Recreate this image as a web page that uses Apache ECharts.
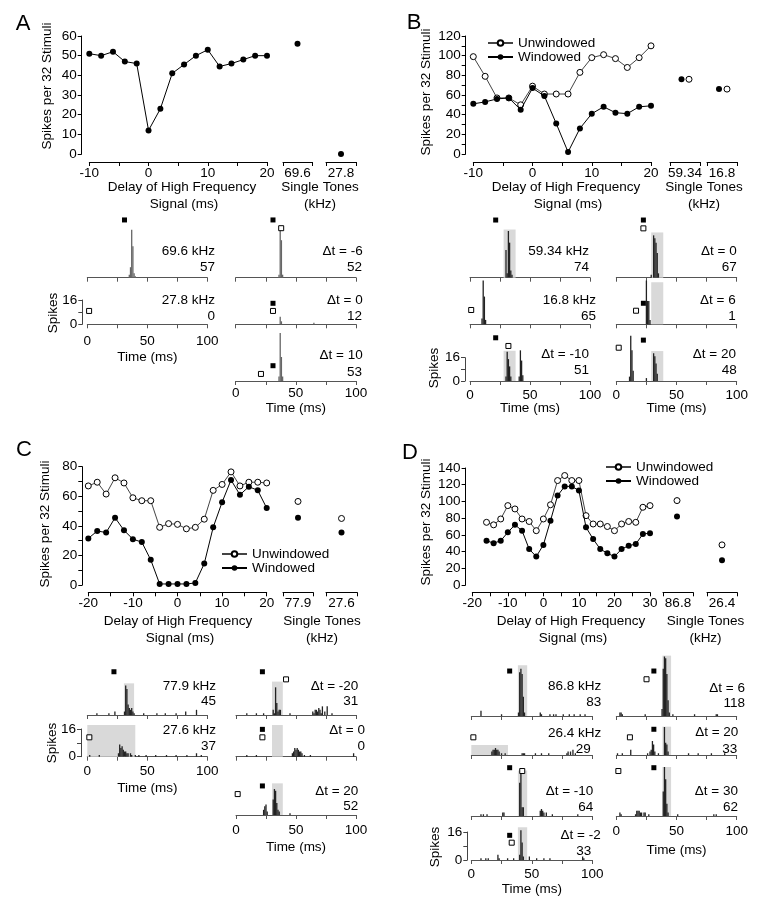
<!DOCTYPE html>
<html><head><meta charset="utf-8">
<script src="https://cdn.jsdelivr.net/npm/echarts@6/dist/echarts.min.js"></script>
<style>html,body{margin:0;padding:0;background:#fff}#c{width:768px;height:918px}</style>
</head><body><div id="c"></div>
<script>
// ================= DATA =================
// Panel A tuning curve
const A_delay = [-10,-8,-6,-4,-2,0,2,4,6,8,10,12,14,16,18,20];
const A_spikes = [51,50,52,47,46,12,23,41,45.5,50,53,44.5,46,48,50,50];
const A_tones = ['69.6','27.8'];
const A_toneSpikes = [56,0];
// Panel B
const B_delay = [-10,-8,-6,-4,-2,0,2,4,6,8,10,12,14,16,18,20];
const B_unwin = [99,79,57,57,50,69,61,61,61,83,98,101,97,88,98,110];
const B_win = [51,53,56,57,45,67,59,31,2,26,41,48,42,41,48,49];
const B_tones = ['59.34','16.8'];
const B_toneUnwin = [76,66];
const B_toneWin = [76,66];
// Panel C
const C_delay = [-20,-18,-16,-14,-12,-10,-8,-6,-4,-2,0,2,4,6,8,10,12,14,16,18,20];
const C_unwin = [67,69.5,61.5,72.5,69,59,57,57,39,41.5,41,38,39,44.5,64,68,76.5,67,69.5,69.5,69];
const C_win = [31.5,36.5,35.5,45.5,37,31,29,17,0.7,0.7,0.7,0.7,1.4,14.5,39,56,71,61,66.5,64,52];
const C_tones = ['77.9','27.6'];
const C_toneUnwin = [56.5,45];
const C_toneWin = [45.5,35.5];
// Panel D
const D_delay = [-16,-14,-12,-10,-8,-6,-4,-2,0,2,4,6,8,10,12,14,16,18,20,22,24,26,28,30];
const D_unwin = [75,72,79,95,91,79,76,65,79,96,125,131,125,125,83,73,73,70,65,73,76,75,93,95];
const D_win = [53,50,53,63,72,65,43,34,48,77,107,118,118,113,69,55,43,38,34,43,47,49,61,62];
const D_tones = ['86.8','26.4'];
const D_toneUnwin = [101,48];
const D_toneWin = [82,29.5];

// Histogram labels
const A_histLabels = ['69.6 kHz','27.8 kHz','\u0394t = -6','\u0394t = 0','\u0394t = 10'];
const A_histCounts = ['57','0','52','12','53'];
const B_histLabels = ['59.34 kHz','16.8 kHz','\u0394t = -10','\u0394t = 0','\u0394t = 6','\u0394t = 20'];
const B_histCounts = ['74','65','51','67','1','48'];
const C_histLabels = ['77.9 kHz','27.6 kHz','\u0394t = -20','\u0394t = 0','\u0394t = 20'];
const C_histCounts = ['45','37','31','0','52'];
const D_histLabels = ['86.8 kHz','26.4 kHz','\u0394t = -10','\u0394t = -2','\u0394t = 6','\u0394t = 20','\u0394t = 30'];
const D_histCounts = ['83','29','64','33','118','33','62'];

// Histogram bins [time ms, spikes]
const A1_bars = [[35,2],[36,7],[37,32],[38,21],[39,3],[40,1]];
const A2_bars = [];
const A3_bars = [[36,2],[37,32],[38,25],[39,2]];
const A4_bars = [[37,5],[38,2],[65,1]];
const A5_bars = [[36,3],[37,32],[38,16],[39,3]];
const B1_bars = [[30,19],[31,3],[32,32],[33,24],[34,5],[35,2]];
const B2_bars = [[10,4],[11,30],[12,19],[13,3]];
const B3_bars = [[30,3],[31,20],[32,15],[33,10],[34,3],[41,3],[42,21],[43,14],[44,4]];
const B4_bars = [[29,2],[31,29],[32,27],[33,24],[34,17],[35,3]];
const B5_bars = [[25,30],[26,16],[27,16],[28,3]];
const B6_bars = [[11,3],[12,31],[13,21],[14,7],[25,2],[31,19],[32,17],[33,12],[34,5]];
const C1_bars = [[8,1],[18,1],[23,2],[31,2],[32,17],[33,15],[34,6],[35,4],[36,3],[37,4],[38,2],[39,1],[47,1],[58,1],[65,1],[74,1],[82,2],[91,3]];
const C2_bars = [[2,1],[10,1],[26,2],[27,7],[28,5],[29,6],[30,4],[31,3],[32,3],[33,2],[34,2],[36,2],[37,1],[40,1],[43,1],[49,1],[57,1],[66,1],[74,1],[83,1],[91,2],[95,1]];
const C3_bars = [[9,1],[17,1],[23,1],[31,3],[32,1],[33,16],[34,7],[35,2],[36,3],[37,3],[45,1],[64,2],[65,1],[66,3],[67,3],[68,2],[69,4],[70,3],[71,1],[72,5],[74,2],[76,5],[80,1]];
const C4_bars = [[9,1],[17,1],[47,2],[48,3],[49,5],[50,4],[51,5],[52,4],[53,3],[54,3],[55,2],[57,1],[62,1],[98,2]];
const C5_bars = [[23,3],[24,5],[25,6],[26,2],[31,9],[32,15],[33,14],[34,7],[35,3],[36,2],[45,1]];
const D1_bars = [[8,3],[25,1],[39,2],[40,25],[41,27],[42,24],[43,11],[44,2],[57,2],[58,1],[65,1],[68,1],[70,1],[76,1],[81,1],[85,1],[90,1],[94,1]];
const D2_bars = [[17,2],[18,3],[19,3],[20,4],[21,3],[22,3],[23,2],[25,1],[28,1],[42,1],[43,1],[44,1],[53,1],[58,1],[64,1],[79,1],[80,2],[82,2],[84,3],[86,1]];
const D3_bars = [[8,1],[10,1],[13,1],[26,2],[27,2],[40,19],[41,25],[42,5],[43,5],[57,3],[58,4],[59,3],[60,2],[62,2],[67,1],[88,1]];
const D4_bars = [[8,1],[12,1],[14,1],[22,3],[23,1],[30,1],[35,1],[40,3],[41,17],[42,10],[43,2],[48,2],[54,1],[60,1],[65,1],[92,2],[93,1]];
const D5_bars = [[3,2],[4,2],[5,1],[24,1],[38,4],[39,27],[40,34],[41,33],[42,24],[43,9],[44,2],[47,1],[65,1],[83,1],[84,1]];
const D6_bars = [[1,1],[5,1],[12,3],[26,1],[28,2],[29,3],[30,8],[31,6],[32,2],[35,1],[40,16],[41,7],[42,6],[43,2],[60,1],[68,1],[79,1],[90,1]];
const D7_bars = [[3,2],[4,1],[16,1],[17,3],[18,3],[19,3],[20,2],[21,2],[23,2],[24,2],[27,1],[39,14],[40,28],[41,21],[42,7],[43,2],[51,1],[81,1],[83,1]];

// Stimulus onset markers [time ms, height in spike units]; hi = high-frequency (filled), lo = low-frequency (open)
const A1_hi = [[31,38.5]]; const A1_lo = [];
const A2_hi = [];          const A2_lo = [[1.5,8.9]];
const A3_hi = [[31,38.5]]; const A3_lo = [[37.8,33]];
const A4_hi = [[31,14]];   const A4_lo = [[31,8.9]];
const A5_hi = [[31,10.2]]; const A5_lo = [[21,4.7]];
const B1_hi = [[21.4,39.5]]; const B1_lo = [];
const B2_hi = [];            const B2_lo = [[1,9.8]];
const B3_hi = [[21.4,29.6]]; const B3_lo = [[32,24]];
const B4_hi = [[22.5,39.5]]; const B4_lo = [[22.5,33.8]];
const B5_hi = [[22.5,14.4]]; const B5_lo = [[16.4,9.3]];
const B6_hi = [[22.5,28]];   const B6_lo = [[2,22.8]];
const C1_hi = [[22.2,25]];   const C1_lo = [];
const C2_hi = [];            const C2_lo = [[1.7,11.2]];
const C3_hi = [[22,25]];     const C3_lo = [[41.7,20.6]];
const C4_hi = [[22,15.8]];   const C4_lo = [[22,11.2]];
const C5_hi = [[22,16.8]];   const C5_lo = [[1.4,12.1]];
const D1_hi = [[31.7,25.7]]; const D1_lo = [];
const D2_hi = [];            const D2_lo = [[1.7,10.1]];
const D3_hi = [[31.7,27.6]]; const D3_lo = [[42.1,25.7]];
const D4_hi = [[31.7,14.1]]; const D4_lo = [[33.4,9.9]];
const D5_hi = [[31.2,25.7]]; const D5_lo = [[25.1,21]];
const D6_hi = [[31.2,14.7]]; const D6_lo = [[11.3,10.1]];
const D7_hi = [[31.2,27.6]]; const D7_lo = [[1.7,25.7]];

// Analysis windows [start ms, end ms, height spikes]
const B1_win = [28,38,33]; const B3_win = [28,38,20.7];
const B4_win = [29,39,31]; const B5_win = [29,39,28.8]; const B6_win = [29,39,20.5];
const C1_win = [30.5,39,18.3]; const C2_win = [0,40,18.3];
const C3_win = [30,39,19.3]; const C4_win = [30,39,18.3]; const C5_win = [30,39,18.3];
const D1_win = [38.5,46.2,29]; const D2_win = [0,30.3,5.7]; const D3_win = [38.5,46.2,26]; const D4_win = [38.5,46.2,18.7];
const D5_win = [38.3,45.5,34.5]; const D6_win = [38.3,45.5,16.2]; const D7_win = [38.3,45.5,28];

// ================= BUILD =================
const FONT = "'Liberation Sans', Arial, Helvetica, sans-serif";
const FS = 13.5;
const grids = [], xAxes = [], yAxes = [], series = [], graphics = [], legends = [];
function addGrid(g){ grids.push(Object.assign({containLabel:false, outerBoundsMode:'none'}, g)); return grids.length-1; }
function txt(t, x, y, o){ o = o||{}; const a = o.align||'center';
  graphics.push({type:'text', x:x, y:y, rotation:o.rot||0, silent:true, z:10,
    style:{text:t, x:0, y:0, fill:'#000', font:(o.size||FS)+'px '+FONT, align:a, verticalAlign:'middle', textAlign:a, textVerticalAlign:'middle'}});
}
const lbl = {color:'#000', fontSize:FS, fontFamily:FONT};
const openStyle = {color:'#fff', borderColor:'#000', borderWidth:1, opacity:1};
const fillStyle = {color:'#000', borderColor:'#000', borderWidth:0, opacity:1};

function mainPlot(c){
  const gi = addGrid({left:c.left, top:c.top, width:c.width, height:c.height});
  xAxes.push({gridIndex:gi, type:'value', min:c.xmin, max:c.xmax, interval:5, offset:c.xoff, position:'bottom',
    axisLine:{onZero:false, lineStyle:{color:'#000', width:1}}, axisTick:{length:4, lineStyle:{color:'#000'}}, splitLine:{show:false},
    axisLabel:Object.assign({margin:4, showMinLabel:true, showMaxLabel:true, formatter:v => (v%10===0 ? String(v) : '')}, lbl)});
  yAxes.push({gridIndex:gi, type:'value', min:0, max:c.ymax, interval:c.yint, offset:c.yoff, position:'left',
    axisLine:{show:true, onZero:false, lineStyle:{color:'#000', width:1}}, axisTick:{show:true, length:4, lineStyle:{color:'#000'}}, splitLine:{show:false},
    axisLabel:Object.assign({margin:5, showMinLabel:true, showMaxLabel:true, formatter:v => (v%c.ylab===0 ? String(v) : '')}, lbl)});
  const xi = xAxes.length-1, yi = yAxes.length-1;
  c.lines.forEach(l => series.push({type:'line', name:l.name, xAxisIndex:xi, yAxisIndex:yi,
    data:l.x.map((x,i) => [x, l.y[i]]), symbol:'circle', symbolSize:6, showSymbol:true, z:l.open?3:4,
    itemStyle:l.open?openStyle:fillStyle, lineStyle:{color:l.open?'#444':'#000', width:1}, emphasis:{disabled:true}}));
  c.tones.forEach(t => {
    const tg = addGrid({left:t.left, top:c.top, width:t.width, height:c.height});
    xAxes.push({gridIndex:tg, type:'value', min:0, max:1, interval:0.5, offset:c.xoff, position:'bottom', splitLine:{show:false},
      axisLine:{onZero:false, lineStyle:{color:'#000', width:1}},
      axisTick:{length:4, customValues:[0,1], lineStyle:{color:'#000'}},
      axisLabel:Object.assign({margin:4, customValues:[0.5], showMinLabel:true, showMaxLabel:true,
        formatter:v => (Math.abs(v-0.5) < 1e-6 ? t.label : '')}, lbl)});
    yAxes.push({gridIndex:tg, type:'value', min:0, max:c.ymax, show:false});
    const txi = xAxes.length-1, tyi = yAxes.length-1;
    t.pts.forEach(p => series.push({type:'scatter', name:p.name, xAxisIndex:txi, yAxisIndex:tyi, data:[[0.5, p.v]],
      symbol:'circle', symbolSize:6, symbolOffset:[p.off||0, 0], itemStyle:p.open?openStyle:fillStyle, z:4, emphasis:{disabled:true}}));
  });
}

// ---- Top plots ----
mainPlot({left:89.3, top:36, width:177.7, height:118, xmin:-10, xmax:20, xoff:8, ymax:60, yint:10, ylab:10, yoff:7.6,
  lines:[{name:'A', x:A_delay, y:A_spikes, open:false}],
  tones:[{left:283, width:29, label:A_tones[0], pts:[{v:A_toneSpikes[0]}]}, {left:326, width:30, label:A_tones[1], pts:[{v:A_toneSpikes[1]}]}]});
mainPlot({left:473.3, top:36, width:177.7, height:118, xmin:-10, xmax:20, xoff:8, ymax:120, yint:10, ylab:20, yoff:7.6,
  lines:[{name:'Unwindowed', x:B_delay, y:B_unwin, open:true}, {name:'Windowed', x:B_delay, y:B_win, open:false}],
  tones:[{left:670, width:30, label:B_tones[0], pts:[{v:B_toneWin[0], off:-3.5}, {v:B_toneUnwin[0], open:true, off:4}]},
         {left:707, width:30, label:B_tones[1], pts:[{v:B_toneWin[1], off:-3}, {v:B_toneUnwin[1], open:true, off:5}]}]});
mainPlot({left:88.3, top:466.7, width:178.4, height:118.3, xmin:-20, xmax:20, xoff:7.3, ymax:80, yint:10, ylab:20, yoff:6,
  lines:[{name:'Unwindowed', x:C_delay, y:C_unwin, open:true}, {name:'Windowed', x:C_delay, y:C_win, open:false}],
  tones:[{left:283, width:30, label:C_tones[0], pts:[{v:C_toneUnwin[0], open:true}, {v:C_toneWin[0]}]},
         {left:326, width:31, label:C_tones[1], pts:[{v:C_toneUnwin[1], open:true}, {v:C_toneWin[1]}]}]});
mainPlot({left:472.3, top:468, width:177.7, height:117, xmin:-20, xmax:30, xoff:7.3, ymax:140, yint:20, ylab:20, yoff:6.7,
  lines:[{name:'Unwindowed', x:D_delay, y:D_unwin, open:true}, {name:'Windowed', x:D_delay, y:D_win, open:false}],
  tones:[{left:663, width:30, label:D_tones[0], pts:[{v:D_toneUnwin[0], open:true, off:-1}, {v:D_toneWin[0], off:-1}]},
         {left:707, width:30, label:D_tones[1], pts:[{v:D_toneUnwin[1], open:true}, {v:D_toneWin[1]}]}]});

// Legends
[[487,36],[221,547],[605,460]].forEach(p => legends.push({left:p[0], top:p[1], orient:'vertical', selectedMode:false,
  data:['Unwindowed','Windowed'], itemWidth:25, itemHeight:7, itemGap:0, padding:0,
  textStyle:{color:'#000', fontSize:FS, fontFamily:FONT, lineHeight:14}}));

// ---- Histograms ----
const COLS = {
  A:{L:[87.3,207.3], R:[235.7,356], pps:1.5, ymax:42, color:'#666'},
  B:{L:[470,590], R:[616.3,736.7], pps:1.46, ymax:42, color:'#222'},
  C:{L:[87.3,207.3], R:[236,356], pps:1.73, ymax:36, color:'#222'},
  D:{L:[471.3,592.3], R:[616.3,736.7], pps:1.75, ymax:36, color:'#222'}
};
const HIST = [
  {p:'A', c:'L', base:277.7, bars:A1_bars, hi:A1_hi, lo:A1_lo, win:null, t:A_histLabels[0], n:A_histCounts[0], tx:215, nx:215, ty:[251.7,267.7]},
  {p:'A', c:'L', base:324.3, bars:A2_bars, hi:A2_hi, lo:A2_lo, win:null, t:A_histLabels[1], n:A_histCounts[1], tx:215, nx:215, ty:[300,316], lm:10, tt:357},
  {p:'A', c:'R', base:277.7, bars:A3_bars, hi:A3_hi, lo:A3_lo, win:null, t:A_histLabels[2], n:A_histCounts[2], tx:362.7, nx:362, ty:[251.7,267.7]},
  {p:'A', c:'R', base:324.3, bars:A4_bars, hi:A4_hi, lo:A4_lo, win:null, t:A_histLabels[3], n:A_histCounts[3], tx:362.7, nx:362, ty:[300,316]},
  {p:'A', c:'R', base:381, bars:A5_bars, hi:A5_hi, lo:A5_lo, win:null, t:A_histLabels[4], n:A_histCounts[4], tx:362.7, nx:362, ty:[355,372], lm:5.5, tt:408.3},
  {p:'B', c:'L', base:277.7, bars:B1_bars, hi:B1_hi, lo:B1_lo, win:B1_win, t:B_histLabels[0], n:B_histCounts[0], tx:589, nx:589, ty:[251.7,267.7]},
  {p:'B', c:'L', base:324.3, bars:B2_bars, hi:B2_hi, lo:B2_lo, win:null, t:B_histLabels[1], n:B_histCounts[1], tx:596, nx:596, ty:[300,316]},
  {p:'B', c:'L', base:381, bars:B3_bars, hi:B3_hi, lo:B3_lo, win:B3_win, t:B_histLabels[2], n:B_histCounts[2], tx:589, nx:589, ty:[354.3,370.7], lm:7, tt:408.3},
  {p:'B', c:'R', base:277.7, bars:B4_bars, hi:B4_hi, lo:B4_lo, win:B4_win, t:B_histLabels[3], n:B_histCounts[3], tx:736.7, nx:736.7, ty:[251.7,267.7]},
  {p:'B', c:'R', base:324.3, bars:B5_bars, hi:B5_hi, lo:B5_lo, win:B5_win, t:B_histLabels[4], n:B_histCounts[4], tx:735.7, nx:735.7, ty:[300,316]},
  {p:'B', c:'R', base:381, bars:B6_bars, hi:B6_hi, lo:B6_lo, win:B6_win, t:B_histLabels[5], n:B_histCounts[5], tx:736, nx:736.7, ty:[354.3,370.7], lm:7, tt:408.3},
  {p:'C', c:'L', base:715, bars:C1_bars, hi:C1_hi, lo:C1_lo, win:C1_win, t:C_histLabels[0], n:C_histCounts[0], tx:216, nx:216, ty:[686,701.7]},
  {p:'C', c:'L', base:756.7, bars:C2_bars, hi:C2_hi, lo:C2_lo, win:C2_win, t:C_histLabels[1], n:C_histCounts[1], tx:216, nx:216, ty:[730,746.7], lm:7.3, tt:788.3},
  {p:'C', c:'R', base:715, bars:C3_bars, hi:C3_hi, lo:C3_lo, win:C3_win, t:C_histLabels[2], n:C_histCounts[2], tx:358.3, nx:358.3, ty:[686,701.7]},
  {p:'C', c:'R', base:756.7, bars:C4_bars, hi:C4_hi, lo:C4_lo, win:C4_win, t:C_histLabels[3], n:C_histCounts[3], tx:365, nx:365, ty:[730,746.7]},
  {p:'C', c:'R', base:815, bars:C5_bars, hi:C5_hi, lo:C5_lo, win:C5_win, t:C_histLabels[4], n:C_histCounts[4], tx:358.3, nx:358.3, ty:[791,806.7], lm:8, tt:847},
  {p:'D', c:'L', base:716, bars:D1_bars, hi:D1_hi, lo:D1_lo, win:D1_win, t:D_histLabels[0], n:D_histCounts[0], tx:601.3, nx:601.3, ty:[686.7,702.7]},
  {p:'D', c:'L', base:755, bars:D2_bars, hi:D2_hi, lo:D2_lo, win:D2_win, t:D_histLabels[1], n:D_histCounts[1], tx:601.3, nx:590.7, ty:[733.3,749]},
  {p:'D', c:'L', base:816, bars:D3_bars, hi:D3_hi, lo:D3_lo, win:D3_win, t:D_histLabels[2], n:D_histCounts[2], tx:593.3, nx:593.3, ty:[791.7,807.3]},
  {p:'D', c:'L', base:860, bars:D4_bars, hi:D4_hi, lo:D4_lo, win:D4_win, t:D_histLabels[3], n:D_histCounts[3], tx:600.7, nx:591.3, ty:[835,851], lm:7.3, tt:889.3},
  {p:'D', c:'R', base:716, bars:D5_bars, hi:D5_hi, lo:D5_lo, win:D5_win, t:D_histLabels[4], n:D_histCounts[4], tx:745, nx:745, ty:[688,703]},
  {p:'D', c:'R', base:755, bars:D6_bars, hi:D6_hi, lo:D6_lo, win:D6_win, t:D_histLabels[5], n:D_histCounts[5], tx:738.3, nx:737.3, ty:[732.7,749]},
  {p:'D', c:'R', base:816, bars:D7_bars, hi:D7_hi, lo:D7_lo, win:D7_win, t:D_histLabels[6], n:D_histCounts[6], tx:738, nx:738, ty:[791.7,807.3], lm:8.7, tt:850}
];
HIST.forEach(h => {
  const P = COLS[h.p], xr = P[h.c], H = P.ymax*P.pps;
  const gi = addGrid({left:xr[0], top:h.base-H, width:xr[1]-xr[0], height:H});
  const showL = h.lm !== undefined;
  xAxes.push({gridIndex:gi, type:'value', min:0, max:100, interval:25, position:'bottom',
    axisLine:{onZero:false, lineStyle:{color:'#555', width:1}}, axisTick:{length:4, lineStyle:{color:'#555'}}, splitLine:{show:false},
    axisLabel:Object.assign({show:showL, margin:h.lm||8, showMinLabel:true, showMaxLabel:true, formatter:v => (v%50===0 ? String(v) : '')}, lbl)});
  yAxes.push({gridIndex:gi, type:'value', min:0, max:P.ymax, show:false});
  const xi = xAxes.length-1, yi = yAxes.length-1;
  const s = {type:'bar', xAxisIndex:xi, yAxisIndex:yi, data:h.bars, barWidth:1.3, clip:false,
    itemStyle:{color:P.color, opacity:1}, emphasis:{disabled:true}, z:3};
  if (h.win) s.markArea = {silent:true, itemStyle:{color:'#d9d9d9', borderWidth:0, opacity:1},
    data:[[{xAxis:h.win[0], yAxis:0}, {xAxis:h.win[1], yAxis:h.win[2]}]]};
  series.push(s);
  series.push({type:'scatter', xAxisIndex:xi, yAxisIndex:yi, data:h.hi, symbol:'rect', symbolSize:5, clip:false,
    itemStyle:{color:'#000', opacity:1}, z:5, emphasis:{disabled:true}});
  series.push({type:'scatter', xAxisIndex:xi, yAxisIndex:yi, data:h.lo, symbol:'rect', symbolSize:5, clip:false,
    itemStyle:{color:'#fff', borderColor:'#000', borderWidth:1, opacity:1}, z:5, emphasis:{disabled:true}});
  txt(h.t, h.tx, h.ty[0], {align:'right'});
  txt(h.n, h.nx, h.ty[1], {align:'right'});
  if (showL) txt('Time (ms)', (xr[0]+xr[1])/2, h.tt);
});

// "Spikes" scale axes (0-16)
[[82.3,300,324.3],[465,357.7,381],[81,729,756.7],[467.3,832,860]].forEach(a => {
  const gi = addGrid({left:a[0], top:a[1], width:1, height:a[2]-a[1]});
  xAxes.push({gridIndex:gi, type:'value', min:0, max:1, show:false});
  yAxes.push({gridIndex:gi, type:'value', min:0, max:16, interval:8, position:'left',
    axisLine:{show:true, onZero:false, lineStyle:{color:'#444', width:1}}, axisTick:{show:true, length:4, lineStyle:{color:'#444'}}, splitLine:{show:false},
    axisLabel:Object.assign({margin:5, formatter:v => (v===8 ? '' : String(v))}, lbl)});
});

// ---- Texts ----
txt('A', 23, 24, {size:22}); txt('B', 414, 23, {size:22}); txt('C', 24, 450, {size:22}); txt('D', 410, 453, {size:22});
const titles = [
  [182,187,204, 320,187,204], [566,187,204, 704,187,204],
  [178,621.7,638, 322,621.7,638], [571,621.7,638, 705.5,621.7,638]
];
titles.forEach(t => { txt('Delay of High Frequency', t[0], t[1]); txt('Signal (ms)', t[0]+2, t[2]);
  txt('Single Tones', t[3], t[4]); txt('(kHz)', t[3], t[5]); });
[[47,86],[426,92],[45,524],[426,522]].forEach(p => txt('Spikes per 32 Stimuli', p[0], p[1], {rot:Math.PI/2}));
[[53,313],[434,368],[52,743],[435,847]].forEach(p => txt('Spikes', p[0], p[1], {rot:Math.PI/2}));

const chart = echarts.init(document.getElementById('c'), null, {renderer:'canvas'});
chart.setOption({animation:false, backgroundColor:'#fff', grid:grids, xAxis:xAxes, yAxis:yAxes, series:series, legend:legends, graphic:graphics});
</script></body></html>
